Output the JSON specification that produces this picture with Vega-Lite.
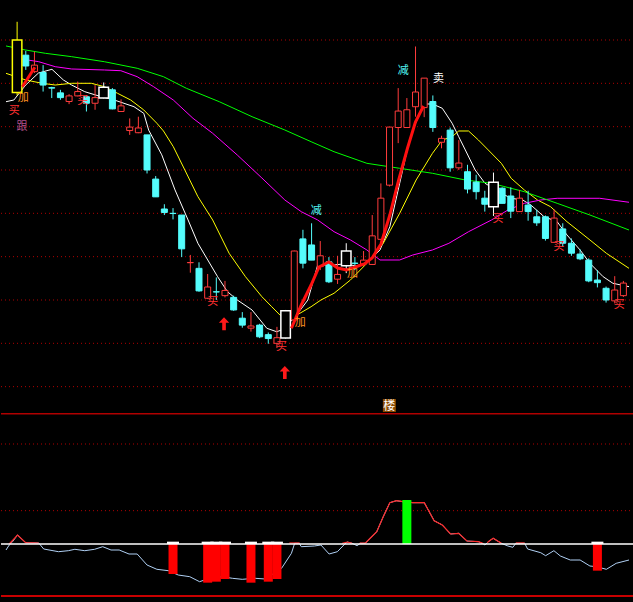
{
"$schema": "https://vega.github.io/schema/vega-lite/v6.json",
"background": "#000000",
"padding": 0,
"spacing": 0,
"bounds": "flush",
"config": {"view": {"stroke": null}, "axis": {"disable": true}, "legend": {"disable": true}},
"resolve": {"scale": {"x": "independent", "y": "independent", "color": "independent", "stroke": "independent", "fill": "independent"}},
"datasets": {
"grid1": [{"g":2},{"g":3},{"g":4},{"g":5},{"g":6},{"g":7},{"g":8},{"g":9},{"g":10}],
"grid2": [{"g":20},{"g":60}],
"candles": [
{"i":0,"o":8.79,"c":10.0,"h":10.42,"l":8.72,"k":"yellow"},
{"i":1,"o":9.65,"c":9.40,"h":9.75,"l":9.31,"k":"down"},
{"i":2,"o":9.27,"c":9.42,"h":9.73,"l":9.24,"k":"up"},
{"i":3,"o":9.25,"c":8.96,"h":9.42,"l":8.81,"k":"down"},
{"i":4,"o":8.90,"c":8.89,"h":8.92,"l":8.66,"k":"down"},
{"i":5,"o":8.78,"c":8.67,"h":8.85,"l":8.62,"k":"down"},
{"i":6,"o":8.58,"c":8.71,"h":8.75,"l":8.52,"k":"up"},
{"i":7,"o":8.71,"c":8.81,"h":9.04,"l":8.70,"k":"up"},
{"i":8,"o":8.69,"c":8.54,"h":8.73,"l":8.35,"k":"down"},
{"i":9,"o":8.54,"c":8.67,"h":8.96,"l":8.39,"k":"up"},
{"i":10,"o":8.66,"c":8.91,"h":9.02,"l":8.65,"k":"white"},
{"i":11,"o":8.85,"c":8.41,"h":8.89,"l":8.40,"k":"down"},
{"i":12,"o":8.35,"c":8.48,"h":8.63,"l":8.34,"k":"up"},
{"i":13,"o":7.91,"c":7.99,"h":8.19,"l":7.81,"k":"up"},
{"i":14,"o":7.86,"c":7.97,"h":8.23,"l":7.85,"k":"up"},
{"i":15,"o":7.81,"c":7.00,"h":7.81,"l":6.92,"k":"down"},
{"i":16,"o":6.79,"c":6.38,"h":6.86,"l":6.38,"k":"down"},
{"i":17,"o":6.10,"c":6.02,"h":6.21,"l":5.96,"k":"down"},
{"i":18,"o":6.00,"c":5.995,"h":6.12,"l":5.86,"k":"down"},
{"i":19,"o":5.96,"c":5.18,"h":5.96,"l":4.99,"k":"down"},
{"i":20,"o":4.86,"c":4.865,"h":5.04,"l":4.63,"k":"up"},
{"i":21,"o":4.73,"c":4.21,"h":4.87,"l":4.19,"k":"down"},
{"i":22,"o":4.04,"c":4.30,"h":4.60,"l":4.02,"k":"up"},
{"i":23,"o":4.19,"c":4.185,"h":4.52,"l":4.00,"k":"down"},
{"i":24,"o":4.10,"c":4.22,"h":4.44,"l":4.06,"k":"up"},
{"i":25,"o":4.06,"c":3.77,"h":4.10,"l":3.75,"k":"down"},
{"i":26,"o":3.58,"c":3.42,"h":3.72,"l":3.36,"k":"down"},
{"i":27,"o":3.35,"c":3.40,"h":3.72,"l":3.27,"k":"up"},
{"i":28,"o":3.42,"c":3.15,"h":3.45,"l":3.12,"k":"down"},
{"i":29,"o":3.20,"c":3.11,"h":3.25,"l":2.99,"k":"down"},
{"i":30,"o":3.00,"c":3.13,"h":3.38,"l":2.89,"k":"up"},
{"i":31,"o":3.12,"c":3.75,"h":3.77,"l":3.11,"k":"white"},
{"i":32,"o":3.54,"c":5.13,"h":5.14,"l":3.53,"k":"up"},
{"i":33,"o":5.41,"c":4.85,"h":5.62,"l":4.73,"k":"down"},
{"i":34,"o":5.27,"c":4.92,"h":5.77,"l":4.92,"k":"down"},
{"i":35,"o":4.77,"c":5.02,"h":5.36,"l":4.69,"k":"up"},
{"i":36,"o":4.88,"c":4.42,"h":4.99,"l":4.39,"k":"down"},
{"i":37,"o":4.48,"c":4.59,"h":5.02,"l":4.37,"k":"up"},
{"i":38,"o":4.79,"c":5.13,"h":5.31,"l":4.62,"k":"white"},
{"i":39,"o":4.85,"c":4.845,"h":4.99,"l":4.69,"k":"down"},
{"i":40,"o":4.83,"c":4.92,"h":5.13,"l":4.79,"k":"up"},
{"i":41,"o":4.82,"c":5.48,"h":5.96,"l":4.81,"k":"up"},
{"i":42,"o":5.40,"c":6.35,"h":6.69,"l":5.38,"k":"up"},
{"i":43,"o":6.65,"c":7.99,"h":7.99,"l":6.62,"k":"up"},
{"i":44,"o":7.98,"c":8.36,"h":8.89,"l":7.62,"k":"up"},
{"i":45,"o":7.98,"c":8.39,"h":8.66,"l":7.97,"k":"up"},
{"i":46,"o":8.46,"c":8.80,"h":9.85,"l":8.23,"k":"up"},
{"i":47,"o":8.44,"c":9.12,"h":9.12,"l":8.22,"k":"up"},
{"i":48,"o":8.58,"c":7.98,"h":8.72,"l":7.88,"k":"down"},
{"i":49,"o":7.64,"c":7.73,"h":7.79,"l":7.50,"k":"up"},
{"i":50,"o":7.92,"c":7.05,"h":7.98,"l":6.96,"k":"down"},
{"i":51,"o":7.05,"c":7.16,"h":7.69,"l":7.00,"k":"up"},
{"i":52,"o":6.96,"c":6.56,"h":7.12,"l":6.46,"k":"down"},
{"i":53,"o":6.72,"c":6.50,"h":6.89,"l":6.32,"k":"down"},
{"i":54,"o":6.35,"c":6.21,"h":6.52,"l":6.04,"k":"down"},
{"i":55,"o":6.15,"c":6.72,"h":6.94,"l":5.94,"k":"white"},
{"i":56,"o":6.58,"c":6.23,"h":6.60,"l":6.23,"k":"down"},
{"i":57,"o":6.40,"c":6.05,"h":6.60,"l":5.89,"k":"down"},
{"i":58,"o":6.04,"c":6.35,"h":6.54,"l":6.03,"k":"up"},
{"i":59,"o":6.19,"c":6.04,"h":6.52,"l":5.83,"k":"down"},
{"i":60,"o":5.92,"c":5.78,"h":6.08,"l":5.71,"k":"down"},
{"i":61,"o":5.92,"c":5.42,"h":5.95,"l":5.37,"k":"down"},
{"i":62,"o":5.33,"c":5.89,"h":6.09,"l":5.33,"k":"up"},
{"i":63,"o":5.64,"c":5.31,"h":5.77,"l":5.23,"k":"down"},
{"i":64,"o":5.31,"c":5.08,"h":5.42,"l":5.02,"k":"down"},
{"i":65,"o":5.06,"c":4.95,"h":5.17,"l":4.92,"k":"down"},
{"i":66,"o":4.92,"c":4.44,"h":4.96,"l":4.41,"k":"down"},
{"i":67,"o":4.46,"c":4.40,"h":4.69,"l":4.29,"k":"down"},
{"i":68,"o":4.27,"c":4.00,"h":4.31,"l":3.94,"k":"down"},
{"i":69,"o":3.98,"c":4.23,"h":4.55,"l":3.92,"k":"up"},
{"i":70,"o":4.10,"c":4.39,"h":4.44,"l":4.07,"k":"up"}
],
"ma": [
{"s":"ma5","i":-1.284,"v":8.576},{"s":"ma5","i":-0.375,"v":8.615},{"s":"ma5","i":0.989,"v":8.961},{"s":"ma5","i":2.466,"v":9.238},{"s":"ma5","i":4.023,"v":9.324},{"s":"ma5","i":5.341,"v":9.077},{"s":"ma5","i":6.295,"v":8.961},{"s":"ma5","i":7.807,"v":8.807},{"s":"ma5","i":9.705,"v":8.692},{"s":"ma5","i":11.216,"v":8.615},{"s":"ma5","i":13.489,"v":8.461},{"s":"ma5","i":14.625,"v":8.308},{"s":"ma5","i":15.19,"v":7.92},{"s":"ma5","i":16.7,"v":7.35},{"s":"ma5","i":18.23,"v":6.54},{"s":"ma5","i":19.739,"v":5.846},{"s":"ma5","i":20.875,"v":5.308},{"s":"ma5","i":22.011,"v":4.923},{"s":"ma5","i":23.148,"v":4.538},{"s":"ma5","i":24.284,"v":4.192},{"s":"ma5","i":25.42,"v":4.0},{"s":"ma5","i":27.125,"v":3.769},{"s":"ma5","i":28.83,"v":3.347},{"s":"ma5","i":29.966,"v":3.268},{"s":"ma5","i":30.534,"v":3.308},{"s":"ma5","i":32.011,"v":3.585},{"s":"ma5","i":33.568,"v":4.0},{"s":"ma5","i":34.705,"v":4.808},{"s":"ma5","i":36.557,"v":4.808},{"s":"ma5","i":37.693,"v":4.831},{"s":"ma5","i":39.25,"v":4.785},{"s":"ma5","i":40.761,"v":4.923},{"s":"ma5","i":41.898,"v":5.154},{"s":"ma5","i":43.034,"v":5.691},{"s":"ma5","i":44.17,"v":6.693},{"s":"ma5","i":45.307,"v":7.692},{"s":"ma5","i":46.068,"v":8.108},{"s":"ma5","i":47.011,"v":8.523},{"s":"ma5","i":47.955,"v":8.523},{"s":"ma5","i":49.091,"v":8.424},{"s":"ma5","i":50.227,"v":8.078},{"s":"ma5","i":50.989,"v":7.768},{"s":"ma5","i":51.75,"v":7.462},{"s":"ma5","i":52.886,"v":7.0},{"s":"ma5","i":54.023,"v":6.693},{"s":"ma5","i":55.909,"v":6.462},{"s":"ma5","i":57.045,"v":6.347},{"s":"ma5","i":58.375,"v":6.308},{"s":"ma5","i":59.318,"v":6.192},{"s":"ma5","i":60.841,"v":5.922},{"s":"ma5","i":62.352,"v":5.807},{"s":"ma5","i":63.489,"v":5.5},{"s":"ma5","i":65.0,"v":5.154},{"s":"ma5","i":66.136,"v":4.847},{"s":"ma5","i":67.659,"v":4.538},{"s":"ma5","i":68.795,"v":4.385},{"s":"ma5","i":70.648,"v":4.307},
{"s":"ma10","i":-1.284,"v":9.231},{"s":"ma10","i":0.989,"v":9.077},{"s":"ma10","i":2.886,"v":9.001},{"s":"ma10","i":4.398,"v":8.961},{"s":"ma10","i":6.295,"v":9.001},{"s":"ma10","i":8.568,"v":9.001},{"s":"ma10","i":10.08,"v":8.922},{"s":"ma10","i":11.591,"v":8.77},{"s":"ma10","i":13.114,"v":8.615},{"s":"ma10","i":14.625,"v":8.385},{"s":"ma10","i":16.136,"v":8.078},{"s":"ma10","i":16.898,"v":7.9},{"s":"ma10","i":18.034,"v":7.538},{"s":"ma10","i":19.364,"v":7.0},{"s":"ma10","i":20.875,"v":6.384},{"s":"ma10","i":22.58,"v":5.846},{"s":"ma10","i":24.477,"v":5.078},{"s":"ma10","i":26.364,"v":4.538},{"s":"ma10","i":28.261,"v":4.076},{"s":"ma10","i":29.398,"v":3.845},{"s":"ma10","i":30.341,"v":3.654},{"s":"ma10","i":31.67,"v":3.578},{"s":"ma10","i":33.943,"v":3.845},{"s":"ma10","i":35.08,"v":4.0},{"s":"ma10","i":36.591,"v":4.155},{"s":"ma10","i":38.489,"v":4.462},{"s":"ma10","i":40.386,"v":4.847},{"s":"ma10","i":42.273,"v":5.308},{"s":"ma10","i":44.17,"v":6.001},{"s":"ma10","i":46.068,"v":6.769},{"s":"ma10","i":47.955,"v":7.385},{"s":"ma10","i":49.091,"v":7.692},{"s":"ma10","i":50.227,"v":7.768},{"s":"ma10","i":50.989,"v":7.9},{"s":"ma10","i":52.125,"v":7.9},{"s":"ma10","i":53.261,"v":7.692},{"s":"ma10","i":54.398,"v":7.462},{"s":"ma10","i":55.909,"v":7.154},{"s":"ma10","i":57.045,"v":6.808},{"s":"ma10","i":58.568,"v":6.538},{"s":"ma10","i":60.08,"v":6.308},{"s":"ma10","i":61.591,"v":6.153},{"s":"ma10","i":63.489,"v":5.807},{"s":"ma10","i":66.136,"v":5.385},{"s":"ma10","i":68.034,"v":5.078},{"s":"ma10","i":70.648,"v":4.731},
{"s":"ma20","i":0.5,"v":9.56},{"s":"ma20","i":2.5,"v":9.499},{"s":"ma20","i":4.398,"v":9.384},{"s":"ma20","i":6.295,"v":9.331},{"s":"ma20","i":10.08,"v":9.308},{"s":"ma20","i":11.977,"v":9.291},{"s":"ma20","i":13.864,"v":9.153},{"s":"ma20","i":15.761,"v":8.922},{"s":"ma20","i":18.034,"v":8.615},{"s":"ma20","i":20.307,"v":8.193},{"s":"ma20","i":22.58,"v":7.847},{"s":"ma20","i":25.42,"v":7.346},{"s":"ma20","i":28.261,"v":6.815},{"s":"ma20","i":30.909,"v":6.308},{"s":"ma20","i":32.807,"v":6.038},{"s":"ma20","i":34.705,"v":5.846},{"s":"ma20","i":36.591,"v":5.576},{"s":"ma20","i":38.489,"v":5.385},{"s":"ma20","i":40.386,"v":5.154},{"s":"ma20","i":41.898,"v":4.923},{"s":"ma20","i":44.17,"v":4.923},{"s":"ma20","i":45.682,"v":5.038},{"s":"ma20","i":47.955,"v":5.154},{"s":"ma20","i":49.852,"v":5.308},{"s":"ma20","i":52.125,"v":5.576},{"s":"ma20","i":54.773,"v":5.846},{"s":"ma20","i":56.67,"v":6.077},{"s":"ma20","i":58.568,"v":6.231},{"s":"ma20","i":60.455,"v":6.308},{"s":"ma20","i":62.352,"v":6.347},{"s":"ma20","i":67.273,"v":6.347},{"s":"ma20","i":70.648,"v":6.255},
{"s":"ma60","i":-1.284,"v":9.862},{"s":"ma60","i":0.989,"v":9.769},{"s":"ma60","i":3.261,"v":9.693},{"s":"ma60","i":6.295,"v":9.615},{"s":"ma60","i":10.08,"v":9.499},{"s":"ma60","i":13.864,"v":9.347},{"s":"ma60","i":16.898,"v":9.153},{"s":"ma60","i":19.545,"v":8.885},{"s":"ma60","i":23.341,"v":8.576},{"s":"ma60","i":27.125,"v":8.23},{"s":"ma60","i":30.909,"v":7.923},{"s":"ma60","i":33.943,"v":7.653},{"s":"ma60","i":36.591,"v":7.422},{"s":"ma60","i":40.386,"v":7.154},{"s":"ma60","i":44.17,"v":7.039},{"s":"ma60","i":47.955,"v":6.924},{"s":"ma60","i":51.75,"v":6.769},{"s":"ma60","i":54.773,"v":6.693},{"s":"ma60","i":58.568,"v":6.499},{"s":"ma60","i":62.352,"v":6.231},{"s":"ma60","i":66.136,"v":5.961},{"s":"ma60","i":70.648,"v":5.615}
],
"redline": [
{"seg":"a","i":0.614,"v":8.922},{"seg":"a","i":2.045,"v":9.37},
{"seg":"b","i":31.67,"v":3.347},{"seg":"b","i":32.807,"v":3.885},{"seg":"b","i":33.943,"v":4.346},{"seg":"b","i":34.852,"v":4.761},{"seg":"b","i":35.989,"v":4.877},{"seg":"b","i":37.011,"v":4.738},{"seg":"b","i":38.034,"v":4.692},{"seg":"b","i":39.057,"v":4.761},{"seg":"b","i":40.08,"v":4.831},{"seg":"b","i":40.989,"v":4.969},{"seg":"b","i":42.011,"v":5.292},{"seg":"b","i":43.034,"v":5.961},{"seg":"b","i":44.057,"v":6.769},{"seg":"b","i":45.08,"v":7.508},{"seg":"b","i":45.989,"v":8.108},{"seg":"b","i":46.92,"v":8.477}
],
"labels": [
{"i":-0.33,"v":8.36,"s":"买"},{"i":0.72,"v":8.67,"s":"加"},{"i":0.557,"v":7.981,"s":"跟"},{"i":7.58,"v":8.60,"s":"买"},{"i":22.58,"v":3.95,"s":"买"},{"i":30.53,"v":2.915,"s":"买"},{"i":32.69,"v":3.47,"s":"加"},{"i":34.55,"v":6.065,"s":"减"},{"i":38.72,"v":4.60,"s":"加"},{"i":44.57,"v":9.285,"s":"减"},{"i":48.66,"v":9.11,"s":"卖"},{"i":55.53,"v":5.88,"s":"买"},{"i":62.58,"v":5.23,"s":"买"},{"i":69.51,"v":3.88,"s":"买"}
],
"arrows": [{"i":23.89,"v":3.453},{"i":30.91,"v":2.327}],
"tag": [{"i":42.98,"v":1.565,"s":"楼"}],
"osc": [
{"i":-1.284,"w":-3.6},{"i":-0.909,"w":-0.6},{"i":-0.523,"w":1.38},{"i":0.045,"w":5.4},{"i":0.989,"w":0.78},{"i":2.5,"w":0.6},{"i":3.068,"w":-3.0},{"i":4.773,"w":-4.62},{"i":5.909,"w":-4.02},{"i":6.67,"w":-3.18},{"i":7.807,"w":-4.02},{"i":8.943,"w":-3.18},{"i":9.886,"w":-1.62},{"i":10.841,"w":-3.6},{"i":11.784,"w":-3.6},{"i":12.92,"w":-6.0},{"i":13.864,"w":-6.0},{"i":15.0,"w":-12.6},{"i":16.136,"w":-15.18},{"i":17.466,"w":-16.02},{"i":18.602,"w":-18.6},{"i":19.932,"w":-19.62},{"i":21.068,"w":-22.62},{"i":22.205,"w":-20.58},{"i":23.716,"w":-19.62},{"i":24.852,"w":-20.58},{"i":25.989,"w":-21.18},{"i":27.5,"w":-20.58},{"i":28.636,"w":-21.0},{"i":30.534,"w":-14.58},{"i":31.67,"w":-5.58},{"i":32.045,"w":0.42},{"i":32.58,"w":0.42},{"i":32.807,"w":-1.62},{"i":34.318,"w":-1.2},{"i":35.08,"w":-0.6},{"i":36.023,"w":-6.0},{"i":36.977,"w":-4.62},{"i":37.727,"w":-0.6},{"i":38.114,"w":1.2},{"i":38.682,"w":0.42},{"i":39.25,"w":-1.02},{"i":39.625,"w":0.42},{"i":40.193,"w":0.42},{"i":40.761,"w":3.42},{"i":41.523,"w":7.38},{"i":42.273,"w":16.38},{"i":43.034,"w":24.78},{"i":43.795,"w":25.98},{"i":44.545,"w":25.38},{"i":45.682,"w":24.78},{"i":47.011,"w":24.78},{"i":48.148,"w":13.98},{"i":49.091,"w":11.4},{"i":50.045,"w":6.0},{"i":50.989,"w":6.42},{"i":51.932,"w":1.8},{"i":53.261,"w":1.38},{"i":53.83,"w":0.0},{"i":54.023,"w":-0.6},{"i":54.398,"w":1.38},{"i":54.966,"w":3.42},{"i":55.909,"w":0.42},{"i":56.67,"w":-1.2},{"i":57.239,"w":-1.98},{"i":57.58,"w":0.42},{"i":58.602,"w":0.42},{"i":58.943,"w":-3.0},{"i":60.455,"w":-5.22},{"i":61.023,"w":-7.02},{"i":61.977,"w":-4.02},{"i":62.727,"w":-7.2},{"i":63.864,"w":-9.6},{"i":65.0,"w":-9.6},{"i":66.136,"w":-13.2},{"i":66.898,"w":-13.62},{"i":68.034,"w":-15.18},{"i":69.17,"w":-11.58},{"i":70.648,"w":-9.6}
],
"oscred": [
{"seg":"1","i":-0.909,"w":0.0},{"seg":"1","i":0.045,"w":5.4},{"seg":"1","i":0.989,"w":0.78},{"seg":"1","i":2.5,"w":0.6},
{"seg":"2","i":31.43,"w":0.6},{"seg":"2","i":32.62,"w":0.6},
{"seg":"3","i":37.54,"w":0.42},{"seg":"3","i":38.114,"w":1.2},{"seg":"3","i":38.68,"w":0.42},
{"seg":"4","i":39.55,"w":0.5},{"seg":"4","i":40.193,"w":0.5},{"seg":"4","i":40.761,"w":3.42},{"seg":"4","i":41.523,"w":7.38},{"seg":"4","i":42.273,"w":16.38},{"seg":"4","i":43.034,"w":24.78},{"seg":"4","i":43.795,"w":25.98},{"seg":"4","i":44.545,"w":25.38},{"seg":"4","i":45.682,"w":24.78},{"seg":"4","i":47.011,"w":24.78},{"seg":"4","i":48.148,"w":13.98},{"seg":"4","i":49.091,"w":11.4},{"seg":"4","i":50.045,"w":6.0},{"seg":"4","i":50.989,"w":6.42},{"seg":"4","i":51.932,"w":1.8},{"seg":"4","i":53.261,"w":1.38},{"seg":"4","i":53.83,"w":0.3},
{"seg":"5","i":54.3,"w":0.6},{"seg":"5","i":54.398,"w":1.38},{"seg":"5","i":54.966,"w":3.42},{"seg":"5","i":55.909,"w":0.42},
{"seg":"6","i":57.58,"w":0.6},{"seg":"6","i":58.6,"w":0.6}
],
"bars": [
{"i":18,"w":-18.0,"k":"down"},{"i":22,"w":-23.2,"k":"down"},{"i":23,"w":-22.6,"k":"down"},{"i":24,"w":-21.0,"k":"down"},{"i":27,"w":-23.2,"k":"down"},{"i":29,"w":-22.6,"k":"down"},{"i":30,"w":-21.0,"k":"down"},{"i":45,"w":26.4,"k":"up"},{"i":67,"w":-16.0,"k":"down"}
]
},
"vconcat": [
{
"width": 633, "height": 413,
"resolve": {"scale": {"color": "independent", "stroke": "independent", "fill": "independent"}},
"layer": [
{"data": {"name": "grid1"}, "mark": {"type": "rule", "strokeDash": [1, 3], "color": "#b00000", "strokeWidth": 1},
 "encoding": {"y": {"field": "g", "type": "quantitative", "scale": {"domain": [1.392, 10.923], "nice": false, "zero": false}}}},
{"data": {"name": "ma"}, "mark": {"type": "line", "strokeWidth": 1},
 "encoding": {"x": {"field": "i", "type": "quantitative", "scale": {"domain": [-1.284, 70.648], "nice": false, "zero": false}},
  "y": {"field": "v", "type": "quantitative"},
  "detail": {"field": "s"},
  "stroke": {"field": "s", "type": "nominal", "scale": {"domain": ["ma5", "ma10", "ma20", "ma60"], "range": ["#ffffff", "#ffff00", "#ff00ff", "#00ff00"]}}}},
{"data": {"name": "candles"}, "mark": {"type": "rule", "strokeWidth": 1},
 "encoding": {"x": {"field": "i", "type": "quantitative"}, "y": {"field": "l", "type": "quantitative"}, "y2": {"field": "h"},
  "stroke": {"field": "k", "type": "nominal", "scale": {"domain": ["up", "down", "white", "yellow"], "range": ["#ff3c3c", "#54fcfc", "#ffffff", "#ffff00"]}}}},
{"data": {"name": "candles"}, "transform": [{"filter": "datum.k === 'up' || datum.k === 'down'"}],
 "mark": {"type": "bar", "size": 6, "strokeWidth": 1},
 "encoding": {"x": {"field": "i", "type": "quantitative"}, "y": {"field": "o", "type": "quantitative"}, "y2": {"field": "c"},
  "fill": {"field": "k", "type": "nominal", "scale": {"domain": ["up", "down"], "range": ["#000000", "#54fcfc"]}},
  "stroke": {"field": "k", "type": "nominal", "scale": {"domain": ["up", "down"], "range": ["#ff3c3c", "#54fcfc"]}}}},
{"data": {"name": "candles"}, "transform": [{"filter": "datum.k === 'white' || datum.k === 'yellow'"}],
 "mark": {"type": "bar", "size": 9.5, "strokeWidth": 1.5, "fill": "#000000"},
 "encoding": {"x": {"field": "i", "type": "quantitative"}, "y": {"field": "o", "type": "quantitative"}, "y2": {"field": "c"},
  "stroke": {"field": "k", "type": "nominal", "scale": {"domain": ["white", "yellow"], "range": ["#ffffff", "#ffff00"]}}}},
{"data": {"name": "redline"}, "mark": {"type": "line", "color": "#ff1010", "strokeWidth": 3},
 "encoding": {"x": {"field": "i", "type": "quantitative"}, "y": {"field": "v", "type": "quantitative"}, "detail": {"field": "seg"}}},
{"data": {"name": "arrows"}, "mark": {"type": "point", "shape": "M0,-1L0.8,-0.15L0.28,-0.15L0.28,1L-0.28,1L-0.28,-0.15L-0.8,-0.15Z", "size": 169, "filled": true, "color": "#ff1a1a", "opacity": 1, "strokeWidth": 0},
 "encoding": {"x": {"field": "i", "type": "quantitative"}, "y": {"field": "v", "type": "quantitative"}}},
{"data": {"name": "labels"}, "mark": {"type": "text", "font": "Noto Sans CJK SC", "fontSize": 11, "align": "center", "baseline": "middle"},
 "encoding": {"x": {"field": "i", "type": "quantitative"}, "y": {"field": "v", "type": "quantitative"}, "text": {"field": "s"},
  "color": {"field": "s", "type": "nominal", "scale": {"domain": ["买", "加", "跟", "减", "卖"], "range": ["#ff3030", "#ff9020", "#b0508a", "#50f0f0", "#ffffff"]}}}},
{"data": {"name": "tag"}, "mark": {"type": "point", "shape": "square", "size": 169, "filled": true, "color": "#8b4a00", "opacity": 1},
 "encoding": {"x": {"field": "i", "type": "quantitative"}, "y": {"field": "v", "type": "quantitative"}}},
{"data": {"name": "tag"}, "mark": {"type": "text", "font": "Noto Sans CJK SC", "fontSize": 12, "align": "center", "baseline": "middle", "color": "#ffffff"},
 "encoding": {"x": {"field": "i", "type": "quantitative"}, "y": {"field": "v", "type": "quantitative"}, "text": {"field": "s"}}}
]
},
{
"width": 633, "height": 189,
"resolve": {"scale": {"color": "independent", "stroke": "independent", "fill": "independent"}},
"layer": [
{"data": {"name": "grid2"}, "mark": {"type": "rule", "strokeDash": [1, 3], "color": "#b00000", "strokeWidth": 1},
 "encoding": {"y": {"field": "g", "type": "quantitative", "scale": {"domain": [-34.8, 78.6], "nice": false, "zero": false}}}},
{"data": {"name": "osc"}, "mark": {"type": "line", "color": "#b0d0f4", "strokeWidth": 1},
 "encoding": {"x": {"field": "i", "type": "quantitative", "scale": {"domain": [-1.284, 70.648], "nice": false, "zero": false}}, "y": {"field": "w", "type": "quantitative"}}},
{"data": {"name": "oscred"}, "mark": {"type": "line", "color": "#ff2a2a", "strokeWidth": 1.2},
 "encoding": {"x": {"field": "i", "type": "quantitative"}, "y": {"field": "w", "type": "quantitative"}, "detail": {"field": "seg"}}},
{"data": {"name": "bars"}, "mark": {"type": "bar", "size": 9},
 "encoding": {"x": {"field": "i", "type": "quantitative"}, "y": {"field": "w", "type": "quantitative"}, "y2": {"datum": 0},
  "fill": {"field": "k", "type": "nominal", "scale": {"domain": ["down", "up"], "range": ["#ff0000", "#00ff00"]}}}},
{"data": {"name": "bars"}, "transform": [{"filter": "datum.k === 'down'"}], "mark": {"type": "bar", "size": 12, "color": "#ffffff"},
 "encoding": {"x": {"field": "i", "type": "quantitative"}, "y": {"datum": 1.4}, "y2": {"datum": 0}}},
{"data": {"values": [{}]}, "mark": {"type": "rule", "color": "#ffffff", "strokeWidth": 1.5},
 "encoding": {"y": {"datum": 0}}},
{"data": {"values": [{}]}, "mark": {"type": "rule", "color": "#c80000", "strokeWidth": 2},
 "encoding": {"y": {"datum": -31.2}}},
{"data": {"values": [{}]}, "mark": {"type": "rule", "color": "#b00000", "strokeWidth": 1.5},
 "encoding": {"y": {"datum": 78.2}}}
]
}
]
}
